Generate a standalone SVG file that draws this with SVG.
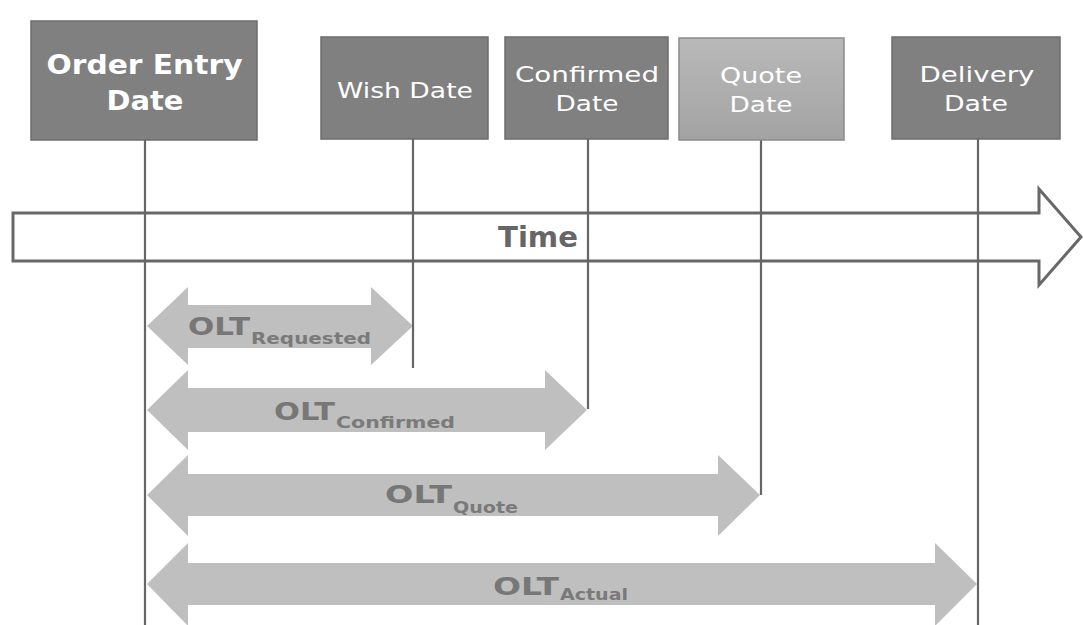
<svg xmlns="http://www.w3.org/2000/svg" width="1083" height="625" viewBox="0 0 1083 625">
  <defs>
    <linearGradient id="quoteFill" x1="0" y1="0" x2="0" y2="1">
      <stop offset="0" stop-color="#b9b9b9"/>
      <stop offset="1" stop-color="#a3a3a3"/>
    </linearGradient>
    <style>
      .box { fill: #808080; stroke: #6c6c6c; stroke-width: 1.5; }
      .box-light { fill: url(#quoteFill); stroke: #8a8a8a; stroke-width: 1.5; }
      .lbl { font-family: "DejaVu Sans", Verdana, sans-serif; fill: #ffffff; font-size: 22px; }
      .lbl-bold { font-weight: bold; font-size: 26px; }
      .drop { stroke: #666666; stroke-width: 2.2; fill: none; }
      .span { fill: #bfbfbf; }
      .olt { font-family: "DejaVu Sans", Verdana, sans-serif; font-weight: bold; fill: #777777; font-size: 24px; }
      .sub { font-family: "DejaVu Sans", Verdana, sans-serif; font-weight: bold; fill: #7a7a7a; font-size: 16px; }
      .time-shape { fill: #ffffff; stroke: #686868; stroke-width: 3; stroke-linejoin: miter; }
      .time-text { font-family: "DejaVu Sans", Verdana, sans-serif; font-weight: bold; fill: #666666; font-size: 29px; }
    </style>
  </defs>

  <rect width="1083" height="625" fill="#ffffff"/>

  <!-- Time axis -->
  <g id="time-axis">
    <path class="time-shape" d="M13,213 L1039,213 L1039,189 L1081,237 L1039,285 L1039,261 L13,261 Z"/>
    <text class="time-text" x="538" y="247" text-anchor="middle" textLength="80" lengthAdjust="spacingAndGlyphs">Time</text>
  </g>

  <!-- Lead-time spans -->
  <g id="olt-requested">
    <path class="span" d="M147,326 L188,287 L188,305 L371,305 L371,287 L413,326 L371,365 L371,348 L188,348 L188,365 Z"/>
    <text class="olt" x="188" y="335" textLength="62" lengthAdjust="spacingAndGlyphs">OLT</text>
    <text class="sub" x="251" y="344" textLength="120" lengthAdjust="spacingAndGlyphs">Requested</text>
  </g>
  <g id="olt-confirmed">
    <path class="span" d="M147,410 L188,370 L188,388 L545,388 L545,370 L587,410 L545,450 L545,432 L188,432 L188,450 Z"/>
    <text class="olt" x="274" y="420" textLength="61" lengthAdjust="spacingAndGlyphs">OLT</text>
    <text class="sub" x="336" y="428" textLength="119" lengthAdjust="spacingAndGlyphs">Confirmed</text>
  </g>
  <g id="olt-quote">
    <path class="span" d="M147,495 L188,455 L188,474 L718,474 L718,455 L760,495 L718,536 L718,516 L188,516 L188,536 Z"/>
    <text class="olt" x="385" y="503" textLength="67" lengthAdjust="spacingAndGlyphs">OLT</text>
    <text class="sub" x="453" y="513" textLength="65" lengthAdjust="spacingAndGlyphs">Quote</text>
  </g>
  <g id="olt-actual">
    <path class="span" d="M147,584 L188,543 L188,563 L935,563 L935,543 L977,584 L935,626 L935,605 L188,605 L188,626 Z"/>
    <text class="olt" x="493" y="595" textLength="66" lengthAdjust="spacingAndGlyphs">OLT</text>
    <text class="sub" x="560" y="600" textLength="68" lengthAdjust="spacingAndGlyphs">Actual</text>
  </g>

  <!-- Drop lines from each date down to its span -->
  <g id="connectors">
    <line class="drop" x1="145" y1="140" x2="145" y2="625"/>
    <line class="drop" x1="413" y1="139" x2="413" y2="368"/>
    <line class="drop" x1="588" y1="139" x2="588" y2="409"/>
    <line class="drop" x1="761" y1="140" x2="761" y2="495"/>
    <line class="drop" x1="978" y1="139" x2="978" y2="625"/>
  </g>

  <!-- Date boxes -->
  <g id="order-entry-date">
    <rect class="box" x="31" y="21" width="226" height="119"/>
    <text class="lbl lbl-bold" x="144.5" y="74" text-anchor="middle" textLength="196" lengthAdjust="spacingAndGlyphs">Order Entry</text>
    <text class="lbl lbl-bold" x="145" y="110" text-anchor="middle" textLength="77" lengthAdjust="spacingAndGlyphs">Date</text>
  </g>
  <g id="wish-date">
    <rect class="box" x="321" y="37" width="167" height="102"/>
    <text class="lbl" x="405" y="98" text-anchor="middle" textLength="136" lengthAdjust="spacingAndGlyphs">Wish Date</text>
  </g>
  <g id="confirmed-date">
    <rect class="box" x="505" y="37" width="163" height="102"/>
    <text class="lbl" x="587" y="82" text-anchor="middle" textLength="144" lengthAdjust="spacingAndGlyphs">Confirmed</text>
    <text class="lbl" x="587" y="111" text-anchor="middle" textLength="63" lengthAdjust="spacingAndGlyphs">Date</text>
  </g>
  <g id="quote-date">
    <rect class="box-light" x="679" y="38" width="165" height="102"/>
    <text class="lbl" x="761" y="83" text-anchor="middle" textLength="82" lengthAdjust="spacingAndGlyphs">Quote</text>
    <text class="lbl" x="761" y="112" text-anchor="middle" textLength="63" lengthAdjust="spacingAndGlyphs">Date</text>
  </g>
  <g id="delivery-date">
    <rect class="box" x="892" y="37" width="168" height="102"/>
    <text class="lbl" x="977" y="82" text-anchor="middle" textLength="115" lengthAdjust="spacingAndGlyphs">Delivery</text>
    <text class="lbl" x="976" y="111" text-anchor="middle" textLength="64" lengthAdjust="spacingAndGlyphs">Date</text>
  </g>
</svg>
